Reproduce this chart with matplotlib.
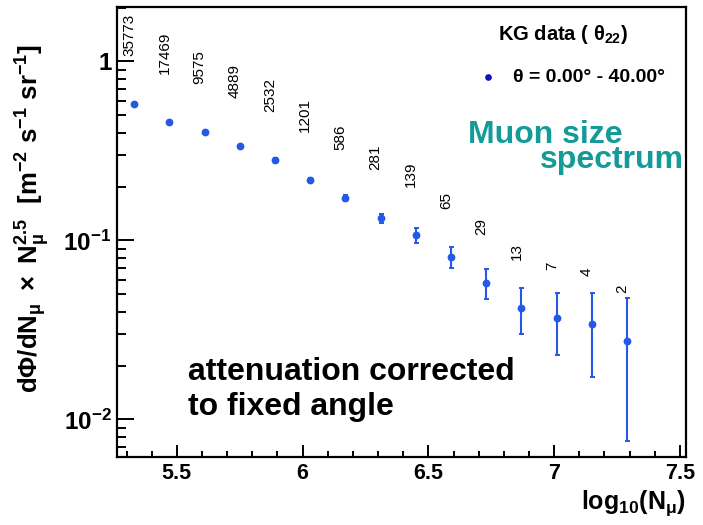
import math
import matplotlib
matplotlib.use("Agg")
import matplotlib.pyplot as plt
from matplotlib.ticker import MultipleLocator, LogLocator, FuncFormatter, NullFormatter

plt.rcParams["font.family"] = ["Liberation Sans", "DejaVu Sans"]
plt.rcParams["font.weight"] = "bold"
plt.rcParams["mathtext.fontset"] = "custom"
plt.rcParams["mathtext.rm"] = "Liberation Sans"
plt.rcParams["mathtext.it"] = "Liberation Sans:italic"
plt.rcParams["mathtext.bf"] = "Liberation Sans:bold"

# muon size bins, flux * N^2.5 and event counts per bin
log_nmu = [5.33, 5.47, 5.61, 5.75, 5.89, 6.03, 6.17, 6.31,
           6.45, 6.59, 6.73, 6.87, 7.01, 7.15, 7.29]
flux = [0.579, 0.457, 0.405, 0.337, 0.282, 0.217, 0.173, 0.133,
        0.107, 0.0812, 0.0581, 0.0421, 0.0368, 0.0342, 0.0276]
flux_err = [0.003, 0.0035, 0.004, 0.005, 0.0055, 0.006, 0.007, 0.008,
            0.010, 0.011, 0.011, 0.012, 0.014, 0.017, 0.020]
counts = [35773, 17469, 9575, 4889, 2532, 1201, 586, 281,
          139, 65, 29, 13, 7, 4, 2]

x_ticks = [5.5, 6.0, 6.5, 7.0, 7.5]

DATA_BLUE = "#2458e6"
TEAL = "#139b98"


def y_fmt(v, pos):
    if abs(v - 1) < 1e-9:
        return "1"
    exp = int(round(math.log10(v)))
    return r"$\mathbf{10^{%d}}$" % exp


fig = plt.figure(figsize=(7.03, 5.25), dpi=100)
ax = fig.add_axes([0.1664, 0.1295, 0.8094, 0.8572])

ax.errorbar(log_nmu, flux, yerr=flux_err, fmt="o", color=DATA_BLUE,
            ms=4.6, elinewidth=1.5, capsize=1.8, capthick=1.4, zorder=3)

# number of events above each point
for x, y, n in zip(log_nmu, flux, counts):
    ax.annotate(str(n), (x, y), xytext=(-3.5, 34.5), textcoords="offset points",
                rotation=90, ha="center", va="bottom", fontsize=11,
                fontweight="normal")

ax.set_yscale("log")
ax.set_xlim(5.262, 7.524)
ax.set_ylim(0.00617, 2.016)

ax.set_xticks(x_ticks)
ax.set_xticklabels(["%g" % t for t in x_ticks])
ax.xaxis.set_minor_locator(MultipleLocator(0.1))
ax.yaxis.set_major_locator(LogLocator(base=10, numticks=10))
ax.yaxis.set_minor_locator(LogLocator(base=10, subs=range(2, 10), numticks=20))
ax.yaxis.set_major_formatter(FuncFormatter(y_fmt))
ax.yaxis.set_minor_formatter(NullFormatter())

ax.tick_params(axis="x", which="major", direction="in", length=8.5, width=1.4,
               labelsize=15.5, pad=4)
ax.tick_params(axis="x", which="minor", direction="in", length=4.5, width=1.4)
ax.tick_params(axis="y", which="major", direction="in", length=12.5, width=1.4,
               labelsize=17.5, pad=4)
ax.tick_params(axis="y", which="minor", direction="in", length=6.5, width=1.4)
for sp in ax.spines.values():
    sp.set_linewidth(1.6)

ax.set_ylabel(r"$\mathbf{d\Phi/dN_{\mu}\ \times\ N_{\mu}^{2.5}\ \ [m^{-2}\ s^{-1}\ sr^{-1}]}$",
              fontsize=18.5)
ax.yaxis.set_label_coords(-0.115, 0.53)
fig.text(0.976, 0.03, r"$\mathbf{log_{10}(N_{\mu})}$", ha="right", va="baseline",
         fontsize=18)

# legend block
ax.text(0.670, 0.938, r"KG data ( $\mathrm{\theta}_{\mathbf{22}}$)",
        transform=ax.transAxes, ha="left", va="center", fontsize=14.5)
ax.plot([0.652], [0.844], "o", color="#0a14c4", ms=3.8, transform=ax.transAxes)
ax.text(0.696, 0.844, "\u03b8 = 0.00\u00b0 - 40.00\u00b0",
        transform=ax.transAxes, ha="left", va="center", fontsize=14)

ax.text(0.617, 0.698, "Muon size", transform=ax.transAxes, ha="left",
        va="baseline", fontsize=23, color=TEAL)
ax.text(0.743, 0.642, "spectrum", transform=ax.transAxes, ha="left",
        va="baseline", fontsize=23, color=TEAL)

ax.text(0.125, 0.171, "attenuation corrected", transform=ax.transAxes,
        ha="left", va="baseline", fontsize=23)
ax.text(0.125, 0.093, "to fixed angle", transform=ax.transAxes,
        ha="left", va="baseline", fontsize=23)

fig.savefig("out.png", dpi=100)
